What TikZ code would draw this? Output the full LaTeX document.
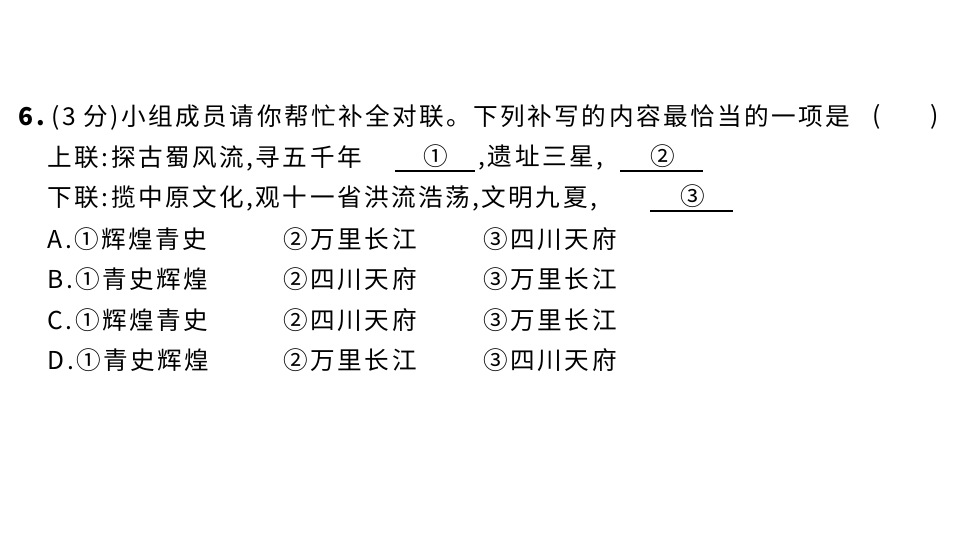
\documentclass[tikz,border=0pt]{standalone}
\usepackage{fontspec}
\newfontfamily\cjk[LetterSpace=10]{Noto Sans CJK SC}
\begin{document}
\begin{tikzpicture}[x=0.01cm,y=-0.01cm,
  t/.style={anchor=west,inner sep=0pt,font=\fontsize{7pt}{8pt}\cjk},
  blank/.style={line width=0.35pt}]
\useasboundingbox (0,0) rectangle (960,540);
\node[t] (q) at (18,117) {\textbf{6.}\,(3 分)小组成员请你帮忙补全对联。下列补写的内容最恰当的一项是};
\node[t] (qp) at (872,117) {(};
\node[t] (qp2) at (930,117) {)};
\node[t] (s1) at (47,158) {上联:探古蜀风流,寻五千年};
\node[t] (c1) at (423,156) {①};
\node[t] (s1b) at (478,158) {,遗址三星,};
\node[t] (c2) at (650,156) {②};
\coordinate (u1a) at (395,171); \coordinate (u1b) at (475,171);
\coordinate (u2a) at (620,171); \coordinate (u2b) at (703,171);
\draw[blank] (u1a) -- (u1b); \draw[blank] (u2a) -- (u2b);
\node[t] (s2) at (47,198) {下联:揽中原文化,观十一省洪流浩荡,文明九夏,};
\node[t] (c3) at (680,196) {③};
\coordinate (u3a) at (650,211); \coordinate (u3b) at (733,211);
\draw[blank] (u3a) -- (u3b);
\foreach \n/\y/\a/\b/\c in {A/239/①辉煌青史/②万里长江/③四川天府,
  B/279/①青史辉煌/②四川天府/③万里长江,
  C/320/①辉煌青史/②四川天府/③万里长江,
  D/360/①青史辉煌/②万里长江/③四川天府}{
  \node[t] (o\n) at (47,\y) {\n.\a};
  \node[t] (o\n b) at (283,\y) {\b};
  \node[t] (o\n c) at (483,\y) {\c};
}
\end{tikzpicture}
\end{document}
